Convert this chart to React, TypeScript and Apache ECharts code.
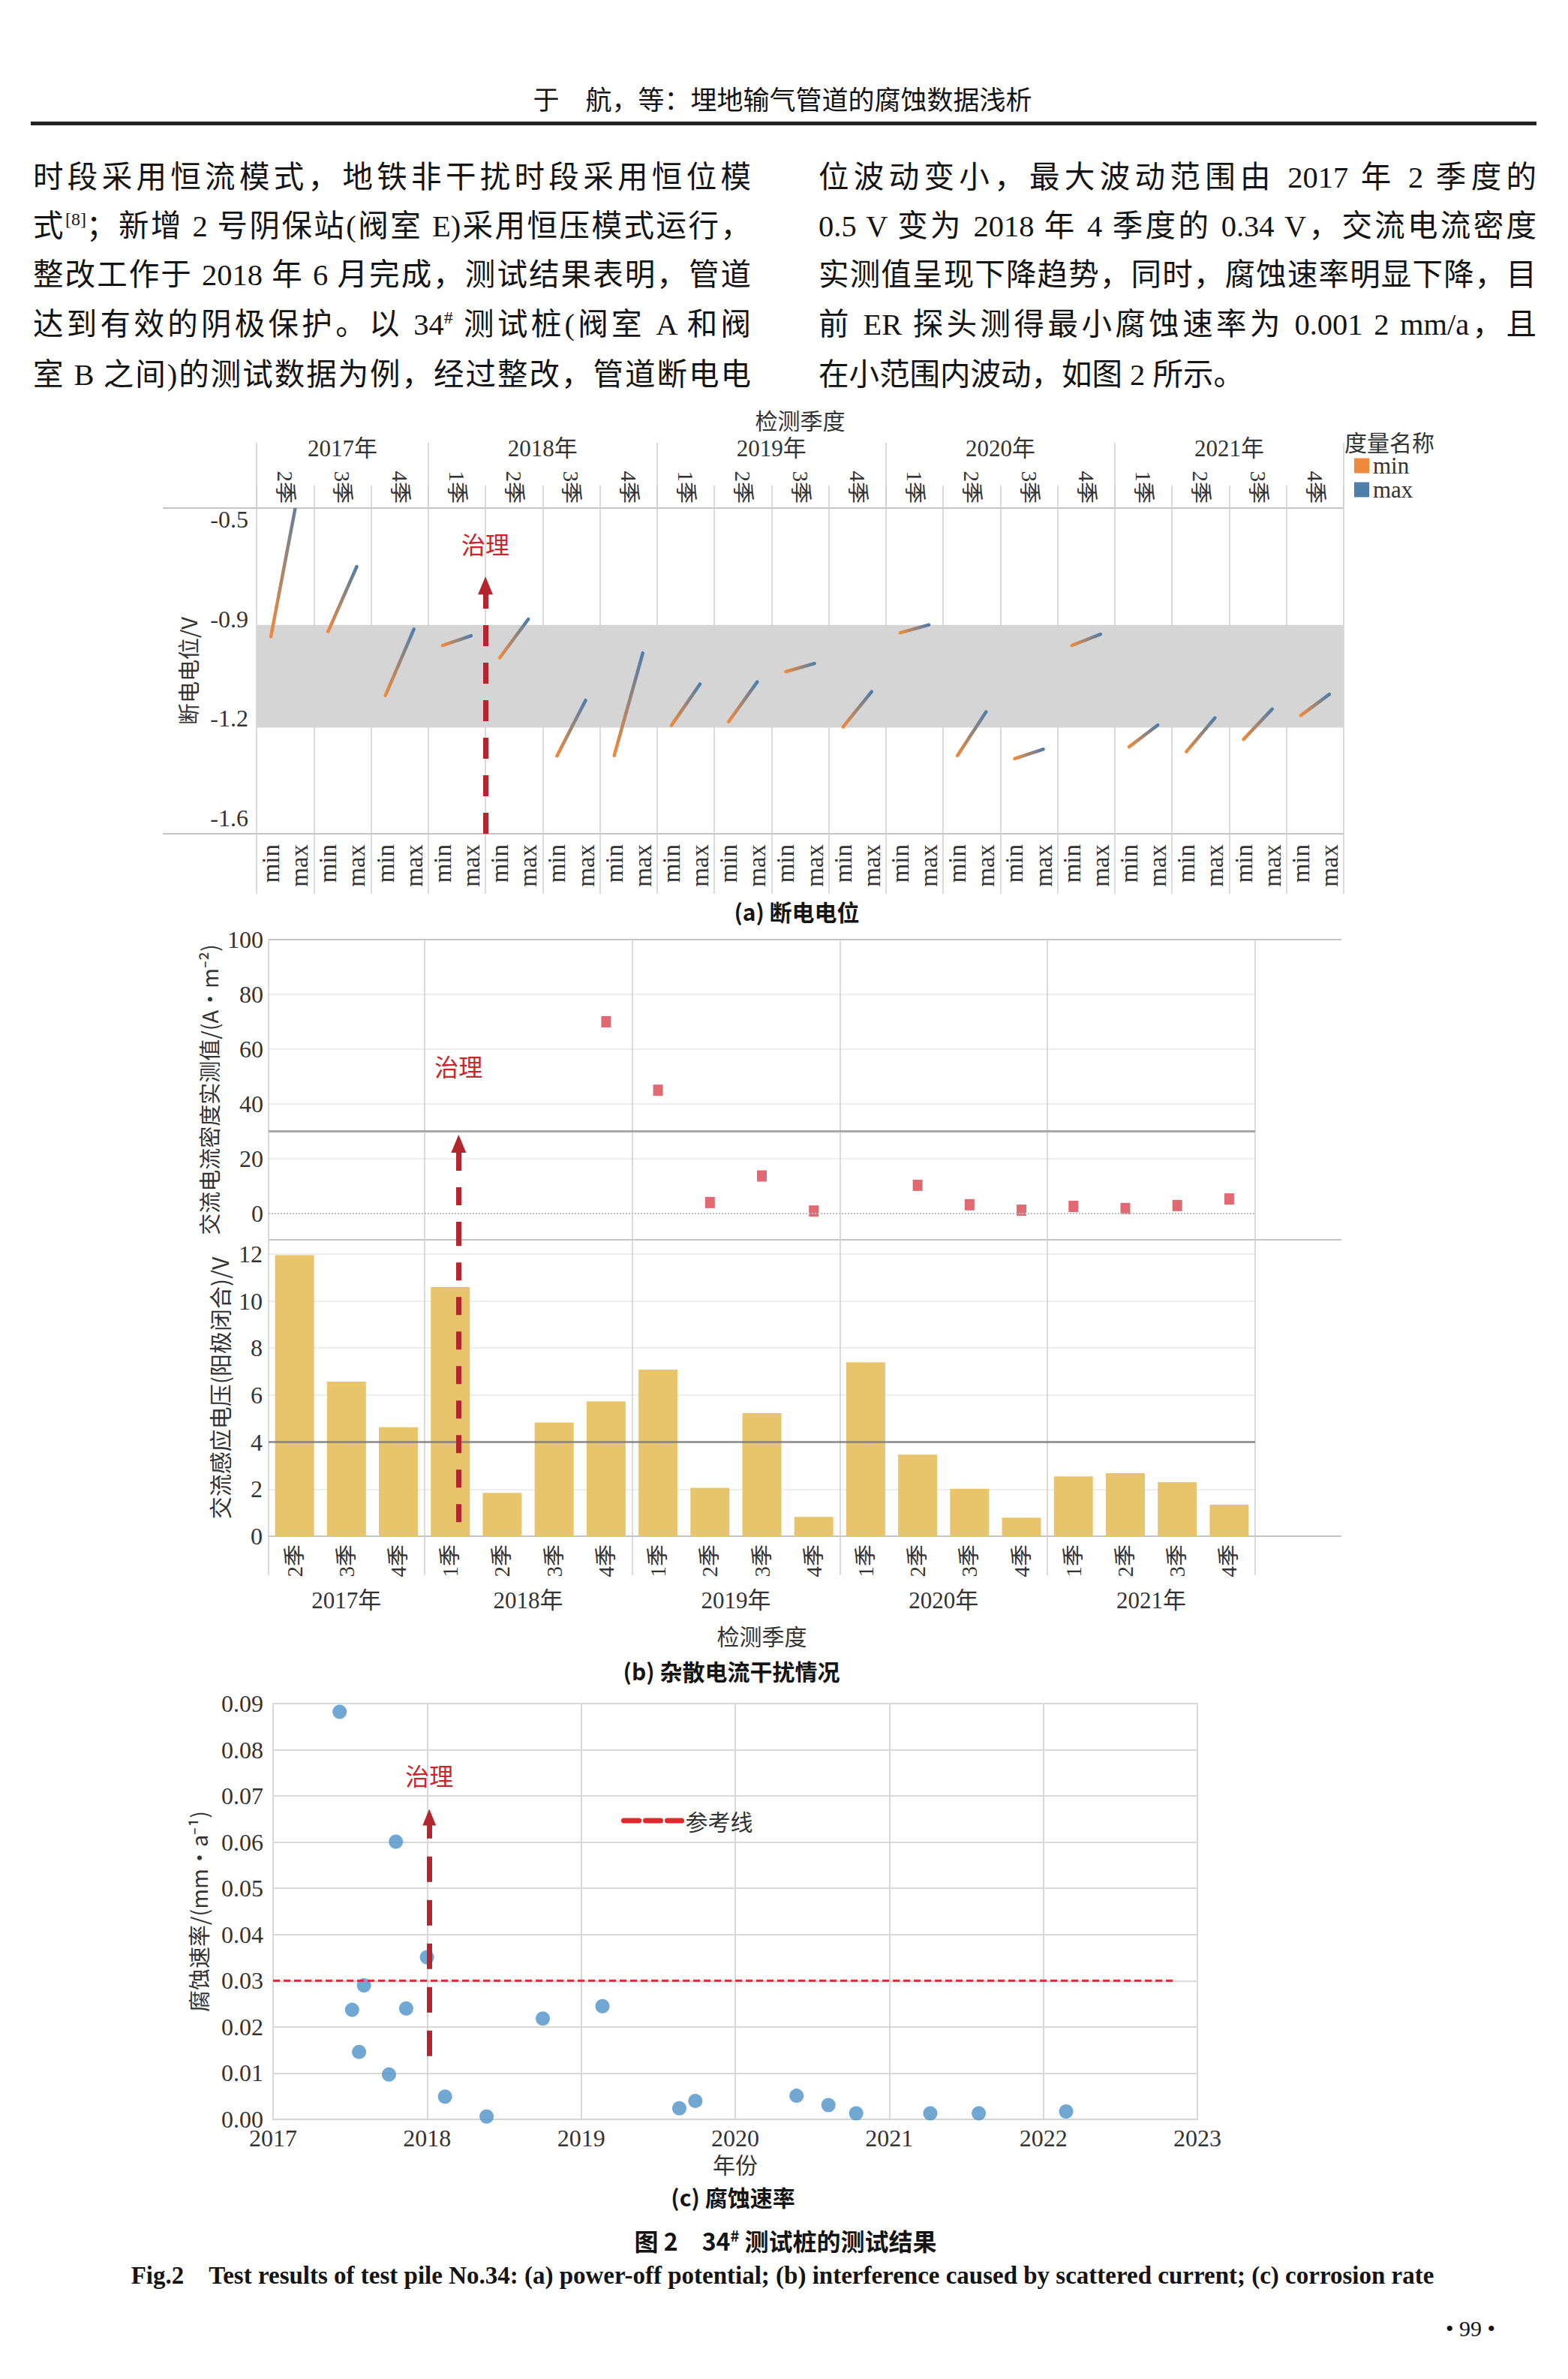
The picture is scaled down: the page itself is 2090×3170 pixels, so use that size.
import React, { useEffect, useRef } from 'react';
import * as echarts from 'echarts';

// ---------------- data ----------------
const quarterLabels = ['2季', '3季', '4季', '1季', '2季', '3季', '4季', '1季', '2季', '3季', '4季', '1季', '2季', '3季', '4季', '1季', '2季', '3季', '4季'];
const yearLabels = ['2017年', '2018年', '2019年', '2020年', '2021年'];
const quartersPerYear = [3, 4, 4, 4, 4];
const measureNames = ['min', 'max'];

// (a) power-off potential, V
const potentialMin = [-0.889, -0.872, -1.084, -0.918, -0.959, -1.284, -1.283, -1.183, -1.171, -1.005, -1.188, -0.876, -1.283, -1.293, -0.918, -1.254, -1.27, -1.229, -1.15];
const potentialMax = [-0.389, -0.657, -0.864, -0.886, -0.831, -1.1, -0.943, -1.046, -1.039, -0.978, -1.071, -0.85, -1.138, -1.262, -0.881, -1.182, -1.158, -1.129, -1.08];
const potentialRange = [-1.542, -0.463];
const potentialTickValues = [-0.5, -0.83, -1.16, -1.49];
const potentialTickLabels = ['-0.5', '-0.9', '-1.2', '-1.6'];
const protectionBand = [-0.85, -1.19];

// (b) AC current density, A/m2 and AC induced voltage, V
const currentDensity = [null, null, null, null, null, null, 70, 45, 4, 13.7, 0.9, null, 10.3, 3.2, 1.2, 2.6, 1.8, 2.9, 5.3];
const densityRange = [-9.6, 100];
const densityTicks = [0, 20, 40, 60, 80, 100];
const densityGrid = [20, 40, 60, 80];
const densityLimit = 30;
const acVoltage = [11.95, 6.57, 4.63, 10.59, 1.84, 4.83, 5.73, 7.08, 2.06, 5.23, 0.82, 7.39, 3.47, 2.02, 0.79, 2.54, 2.68, 2.3, 1.34];
const voltageRange = [0, 12.6];
const voltageTicks = [0, 2, 4, 6, 8, 10, 12];
const voltageGrid = [2, 6, 8, 10, 12];
const voltageLimit = 4;

// (c) corrosion rate, mm/a
const corrosionYear = [2017.432, 2017.513, 2017.59, 2017.558, 2017.752, 2017.797, 2017.864, 2017.999, 2018.116, 2018.386, 2018.751, 2019.138, 2019.637, 2019.741, 2020.398, 2020.605, 2020.785, 2021.266, 2021.581, 2022.148];
const corrosionRate = [0.0882, 0.0237, 0.029, 0.0146, 0.0097, 0.0601, 0.024, 0.0351, 0.0049, 0.0006, 0.0218, 0.0245, 0.0024, 0.004, 0.0051, 0.0031, 0.0013, 0.0013, 0.0013, 0.0017];
const corrosionRefValue = 0.03;
const corrosionRefSpan = [2017, 2022.86];

// treatment annotation positions (per chart axis units)
const treatA = { x: 4, top: -0.72 };
const treatB = { x: 3.66, bottom: 0.6, top: 25.5 };
const treatC = { x: 2018.014, bottom: 0.0137, top: 0.0654 };

// ---------------- styles ----------------
const SERIF = 'Liberation Serif, Noto Sans CJK SC, serif';
const CJK = 'Noto Sans CJK SC, sans-serif';
const TXT = '#333';
const ORANGE = '#ef8a3c';
const BLUE = '#4e7ea9';
const SEP = '#cfcfcf';
const BORDER = '#c4c4c4';
const ARROW = '#b3262d';
const RED_TXT = '#c8262d';

const yearBoundaries = quartersPerYear.reduce((acc, q) => { acc.push(acc[acc.length - 1] + q); return acc; }, [0] as number[]);
const yearCenters = yearLabels.map((_, k) => (yearBoundaries[k] + yearBoundaries[k + 1]) / 2);
const lookup = (vals: number[], labels: string[]) => (v: number) => {
  const k = vals.findIndex((c) => Math.abs(c - v) < 1e-6);
  return k >= 0 ? labels[k] : '';
};
const yearFormatter = lookup(yearCenters, yearLabels);

function buildOption(): any {
  const nQ = quarterLabels.length;
  const arrowLine = (width: number, dash: number[]) => ({ color: ARROW, width, type: dash });

  const xAxis: any[] = [
    // ---- (a) ----
    { type: 'value', gridIndex: 0, min: 0, max: nQ, interval: 1, position: 'bottom', axisLine: { show: false }, axisLabel: { show: false },
      axisTick: { show: true, length: 80, lineStyle: { color: SEP, width: 1.5 } }, splitLine: { show: true, lineStyle: { color: SEP, width: 1.5 } } },
    { type: 'category', gridIndex: 0, position: 'bottom', data: quarterLabels.flatMap(() => measureNames), axisLine: { show: false }, axisTick: { show: false },
      axisLabel: { rotate: 90, interval: 0, margin: 14, fontSize: 33, fontFamily: SERIF, color: TXT } },
    { type: 'category', gridIndex: 0, position: 'top', data: quarterLabels, axisLine: { show: false }, axisTick: { show: false },
      axisLabel: { rotate: 90, interval: 0, margin: 6, fontSize: 29, fontFamily: SERIF, color: TXT } },
    { type: 'value', gridIndex: 0, min: 0, max: nQ, interval: 1, position: 'top', axisLine: { show: false }, axisLabel: { show: false },
      axisTick: { show: true, length: 30, lineStyle: { color: SEP, width: 1.5 } }, splitLine: { show: false } },
    { type: 'value', gridIndex: 0, min: 0, max: nQ, position: 'top', axisLine: { show: false }, splitLine: { show: false },
      axisTick: { show: true, length: 87, customValues: yearBoundaries, lineStyle: { color: SEP, width: 1.5 } },
      axisLabel: { customValues: yearCenters, formatter: yearFormatter, margin: 64, fontSize: 31, fontFamily: SERIF, color: TXT },
      name: '检测季度', nameLocation: 'middle', nameGap: 103, nameTextStyle: { fontSize: 30, fontFamily: CJK, color: TXT } },
    // ---- (b) ----
    { type: 'value', gridIndex: 1, min: 0, max: nQ, axisLine: { show: false }, axisLabel: { show: false },
      axisTick: { show: false, customValues: yearBoundaries }, splitLine: { show: true, lineStyle: { color: SEP, width: 1.5 } } },
    { type: 'value', gridIndex: 2, min: 0, max: nQ, position: 'bottom', axisLine: { show: true, lineStyle: { color: BORDER, width: 2 } },
      axisTick: { show: true, length: 52, customValues: yearBoundaries, lineStyle: { color: SEP, width: 1.5 } },
      splitLine: { show: true, lineStyle: { color: SEP, width: 1.5 } },
      axisLabel: { customValues: yearCenters, formatter: yearFormatter, margin: 70, fontSize: 31, fontFamily: SERIF, color: TXT },
      name: '检测季度', nameLocation: 'middle', nameGap: 117, nameTextStyle: { fontSize: 30, fontFamily: CJK, color: TXT } },
    { type: 'category', gridIndex: 2, position: 'bottom', data: quarterLabels, axisLine: { show: false }, axisTick: { show: false },
      axisLabel: { rotate: 90, interval: 0, margin: 11, fontSize: 29, fontFamily: SERIF, color: TXT } },
    // ---- (c) ----
    { type: 'value', gridIndex: 3, min: 2017, max: 2023, interval: 1, axisLine: { show: true, lineStyle: { color: '#d4d4d4', width: 2 } }, axisTick: { show: false },
      axisLabel: { margin: 9, fontSize: 32, fontFamily: SERIF, color: TXT, formatter: (v: number) => String(v) },
      splitLine: { show: true, lineStyle: { color: '#d9d9d9', width: 2 } },
      name: '年份', nameLocation: 'middle', nameGap: 44, nameTextStyle: { fontSize: 30, fontFamily: CJK, color: TXT } },
  ];

  const yAxis: any[] = [
    // (a)
    { type: 'value', gridIndex: 0, min: potentialRange[0], max: potentialRange[1], axisLine: { show: false },
      axisTick: { show: true, length: 125, customValues: potentialRange, lineStyle: { color: BORDER, width: 2 } },
      splitLine: { show: true, lineStyle: { color: BORDER, width: 2 } },
      axisLabel: { customValues: potentialTickValues, formatter: lookup(potentialTickValues, potentialTickLabels), margin: 11, fontSize: 32, fontFamily: SERIF, color: TXT },
      name: '断电电位/V', nameLocation: 'middle', nameGap: 78, nameTextStyle: { fontSize: 29, fontFamily: CJK, color: TXT } },
    // (b) upper
    { type: 'value', gridIndex: 1, min: densityRange[0], max: densityRange[1], axisLine: { show: false },
      axisTick: { show: false, customValues: densityGrid }, splitLine: { show: true, lineStyle: { color: '#eeeeee', width: 2 } },
      axisLabel: { customValues: densityTicks, margin: 7, fontSize: 32, fontFamily: SERIF, color: TXT },
      name: '交流电流密度实测值/(A·m⁻²)', nameLocation: 'middle', nameGap: 56, nameTextStyle: { fontSize: 29, fontFamily: CJK, color: TXT } },
    { type: 'value', gridIndex: 1, min: densityRange[0], max: densityRange[1], axisLine: { show: false }, axisLabel: { show: false },
      axisTick: { show: true, length: 115, customValues: densityRange, lineStyle: { color: BORDER, width: 2 } },
      splitLine: { show: true, lineStyle: { color: BORDER, width: 2 } } },
    // (b) lower
    { type: 'value', gridIndex: 2, min: voltageRange[0], max: voltageRange[1], axisLine: { show: false },
      axisTick: { show: false, customValues: voltageGrid }, splitLine: { show: true, lineStyle: { color: '#eeeeee', width: 2 } },
      axisLabel: { customValues: voltageTicks, margin: 8, fontSize: 32, fontFamily: SERIF, color: TXT },
      name: '交流感应电压(阳极闭合)/V', nameLocation: 'middle', nameGap: 50, nameTextStyle: { fontSize: 30, fontFamily: CJK, color: TXT } },
    { type: 'value', gridIndex: 2, min: voltageRange[0], max: voltageRange[1], axisLine: { show: false }, axisLabel: { show: false },
      axisTick: { show: true, length: 115, customValues: voltageRange, lineStyle: { color: BORDER, width: 2 } },
      splitLine: { show: true, lineStyle: { color: BORDER, width: 2 } } },
    // (c)
    { type: 'value', gridIndex: 3, min: 0, max: 0.09, interval: 0.01, axisLine: { show: false }, axisTick: { show: false },
      axisLabel: { margin: 13, fontSize: 32, fontFamily: SERIF, color: TXT, formatter: (v: number) => v.toFixed(2) },
      splitLine: { show: true, lineStyle: { color: '#d9d9d9', width: 2 } },
      name: '腐蚀速率/(mm·a⁻¹)', nameLocation: 'middle', nameGap: 86, nameTextStyle: { fontSize: 29, fontFamily: CJK, color: TXT } },
  ];

  const series: any[] = [
    // (a) min-max segments
    {
      type: 'custom', name: '断电电位', xAxisIndex: 0, yAxisIndex: 0, clip: true, silent: true,
      data: quarterLabels.map((_, i) => [i, potentialMin[i], potentialMax[i]]),
      encode: { x: 0, y: [1, 2] },
      renderItem: (_p: any, api: any) => {
        const i = api.value(0);
        const p1 = api.coord([i + 0.25, api.value(1)]);
        const p2 = api.coord([i + 0.75, api.value(2)]);
        return {
          type: 'line',
          shape: { x1: p1[0], y1: p1[1], x2: p2[0], y2: p2[1] },
          style: {
            stroke: new echarts.graphic.LinearGradient(p1[0], p1[1], p2[0], p2[1], [
              { offset: 0, color: ORANGE }, { offset: 1, color: BLUE }], true),
            lineWidth: 4.5, lineCap: 'round',
          },
        };
      },
      markArea: { silent: true, itemStyle: { color: '#d5d5d5' }, data: [[{ yAxis: protectionBand[0] }, { yAxis: protectionBand[1] }]] },
      markLine: {
        silent: true, symbol: ['none', 'triangle'], symbolSize: [20, 24],
        lineStyle: arrowLine(7, [28, 22]),
        label: { show: true, position: 'end', formatter: '治理', distance: 40, fontSize: 32, fontFamily: CJK, color: RED_TXT },
        data: [[{ coord: [treatA.x, potentialRange[0]] }, { coord: [treatA.x, treatA.top] }]],
      },
    },
    { type: 'line', name: 'min', xAxisIndex: 0, yAxisIndex: 0, data: [], color: ORANGE },
    { type: 'line', name: 'max', xAxisIndex: 0, yAxisIndex: 0, data: [], color: BLUE },
    // (b) current density
    {
      type: 'scatter', name: '交流电流密度', xAxisIndex: 5, yAxisIndex: 1, symbol: 'rect', symbolSize: [13, 15], silent: true,
      itemStyle: { color: '#d8434f' },
      data: currentDensity.map((v, i) => (v == null ? null : [i + 0.5, v])).filter((d) => d != null),
      markLine: {
        silent: true, symbol: ['none', 'none'], label: { show: false },
        data: [
          { yAxis: densityLimit, lineStyle: { color: '#a8a8a8', width: 3, type: 'solid' } },
          { yAxis: 0, lineStyle: { color: '#bdbdbd', width: 2, type: 'dotted' } },
          [{ coord: [treatB.x, densityRange[0]], symbol: 'none' },
            { coord: [treatB.x, treatB.top], symbol: 'triangle', symbolSize: [20, 24],
              lineStyle: arrowLine(7, [24, 22]),
              label: { show: true, position: 'end', formatter: '治理', distance: 88, fontSize: 32, fontFamily: CJK, color: RED_TXT } }],
        ],
      },
    },
    // (b) AC voltage
    {
      type: 'bar', name: '交流感应电压', xAxisIndex: 6, yAxisIndex: 3, barWidth: 52, silent: true,
      itemStyle: { color: '#e8c56d' },
      data: acVoltage.map((v, i) => [i + 0.5, v]),
      markLine: {
        silent: true, symbol: ['none', 'none'], label: { show: false },
        data: [
          { yAxis: voltageLimit, lineStyle: { color: 'rgba(120,120,120,0.75)', width: 3, type: 'solid' } },
          [{ coord: [treatB.x, treatB.bottom] }, { coord: [treatB.x, voltageRange[1]], lineStyle: arrowLine(7, [24, 22]) }],
        ],
      },
    },
    // (c) corrosion rate
    {
      type: 'scatter', name: '腐蚀速率', xAxisIndex: 8, yAxisIndex: 5, symbolSize: 19, silent: true,
      itemStyle: { color: '#4e92c8' },
      data: corrosionYear.map((y, i) => [y, corrosionRate[i]]),
    },
    {
      type: 'line', name: '参考线', xAxisIndex: 8, yAxisIndex: 5, symbol: 'none', silent: true,
      lineStyle: { color: '#e0282f', width: 3, type: [9, 5] }, color: '#e0282f',
      data: corrosionRefSpan.map((x) => [x, corrosionRefValue]),
      markLine: {
        silent: true, symbol: ['none', 'triangle'], symbolSize: [18, 22],
        lineStyle: arrowLine(7, [34, 24]),
        label: { show: true, position: 'end', formatter: '治理', distance: 40, fontSize: 32, fontFamily: CJK, color: RED_TXT },
        data: [[{ coord: [treatC.x, treatC.bottom] }, { coord: [treatC.x, treatC.top] }]],
      },
    },
  ];

  return {
    animation: false,
    backgroundColor: 'transparent',
    title: [
      { text: '度量名称', left: 1787, top: 568, textStyle: { fontSize: 30, fontWeight: 'normal', fontFamily: CJK, color: TXT } },
    ],
    legend: [
      { data: measureNames, orient: 'vertical', left: 1800, top: 600, icon: 'rect', itemWidth: 20, itemHeight: 20, itemGap: 1,
        selectedMode: false, textStyle: { fontSize: 31, lineHeight: 28, fontFamily: SERIF, color: TXT } },
      { data: ['参考线'], left: 823, top: 2406, itemWidth: 77, itemHeight: 20, selectedMode: false,
        lineStyle: { width: 7, type: [20, 9], cap: 'round' }, itemStyle: { opacity: 0 },
        textStyle: { fontSize: 30, fontFamily: CJK, color: TXT } },
    ],
    grid: [
      { left: 342, top: 677, width: 1449, height: 434 },
      { left: 358, top: 1252, width: 1315, height: 400 },
      { left: 358, top: 1652, width: 1315, height: 395 },
      { left: 364, top: 2270, width: 1232, height: 554 },
    ],
    xAxis,
    yAxis,
    series,
  };
}

const bodyFont = '"Liberation Serif", "Noto Sans CJK SC", serif';
const capFont = '"Noto Sans CJK SC", sans-serif';
const supStyle: any = { fontSize: 24, verticalAlign: 'top', lineHeight: '30px' };

const leftLines: React.ReactNode[] = [
  '时段采用恒流模式，地铁非干扰时段采用恒位模',
  <>式<sup style={supStyle}>[8]</sup>；新增 2 号阴保站(阀室 E)采用恒压模式运行，</>,
  '整改工作于 2018 年 6 月完成，测试结果表明，管道',
  <>达到有效的阴极保护。以 34<sup style={supStyle}>#</sup> 测试桩(阀室 A 和阀</>,
  '室 B 之间)的测试数据为例，经过整改，管道断电电',
];
const rightLines: React.ReactNode[] = [
  '位波动变小，最大波动范围由 2017 年 2 季度的',
  '0.5 V 变为 2018 年 4 季度的 0.34 V，交流电流密度',
  '实测值呈现下降趋势，同时，腐蚀速率明显下降，目',
  '前 ER 探头测得最小腐蚀速率为 0.001 2 mm/a，且',
  '在小范围内波动，如图 2 所示。',
];
const lineTops = [212, 277, 342, 408, 475];

function TextLine({ left, top, width, children, last }: any) {
  return (
    <div style={{ position: 'absolute', left, top, width, fontSize: 40.5, lineHeight: '50px', height: 50,
      textAlign: 'justify', textAlignLast: last ? 'left' : 'justify', fontFamily: bodyFont, color: '#141414', whiteSpace: 'normal' } as any}>
      {children}
    </div>
  );
}

function Centered({ cx, cy, size, weight, font, children, w = 1600 }: any) {
  return (
    <div style={{ position: 'absolute', left: cx - w / 2, top: cy - size * 0.7, width: w, textAlign: 'center',
      fontSize: size, lineHeight: `${size * 1.4}px`, fontWeight: weight || 'normal', fontFamily: font, color: '#141414', whiteSpace: 'nowrap' }}>
      {children}
    </div>
  );
}

export default function App() {
  const ref = useRef<HTMLDivElement>(null);
  useEffect(() => {
    if (!ref.current) return;
    const chart = echarts.init(ref.current, undefined, { renderer: 'svg' });
    chart.setOption(buildOption());
    return () => chart.dispose();
  }, []);

  return (
    <div style={{ position: 'absolute', left: 0, top: 0, width: 2090, height: 3170, background: '#fff', overflow: 'hidden' }}>
      <div ref={ref} style={{ position: 'absolute', left: 0, top: 0, width: 2090, height: 3170 }} />
      <Centered cx={1043} cy={130} size={35} font={capFont}>于　航，等：埋地输气管道的腐蚀数据浅析</Centered>
      <div style={{ position: 'absolute', left: 41, top: 162, width: 2007, height: 5, background: '#222' }} />
      {leftLines.map((l, i) => (
        <TextLine key={'l' + i} left={44} top={lineTops[i]} width={957}>{l}</TextLine>
      ))}
      {rightLines.map((l, i) => (
        <TextLine key={'r' + i} left={1091} top={lineTops[i]} width={957} last={i === rightLines.length - 1}>{l}</TextLine>
      ))}
      <Centered cx={1062} cy={1214} size={30} weight="bold" font={capFont}>(a) 断电电位</Centered>
      <Centered cx={975} cy={2226} size={30} weight="bold" font={capFont}>(b) 杂散电流干扰情况</Centered>
      <Centered cx={977} cy={2927} size={30} weight="bold" font={capFont}>(c) 腐蚀速率</Centered>
      <Centered cx={1047} cy={2979} size={32} weight="bold" font={capFont}>图 2　34<sup style={{ fontSize: 20 }}>#</sup> 测试桩的测试结果</Centered>
      <Centered cx={1043} cy={3032} size={33} weight="bold" font={bodyFont} w={2080}>Fig.2　Test results of test pile No.34: (a) power-off potential; (b) interference caused by scattered current; (c) corrosion rate</Centered>
      <Centered cx={1960} cy={3103} size={30} font={bodyFont} w={200}>• 99 •</Centered>
    </div>
  );
}
